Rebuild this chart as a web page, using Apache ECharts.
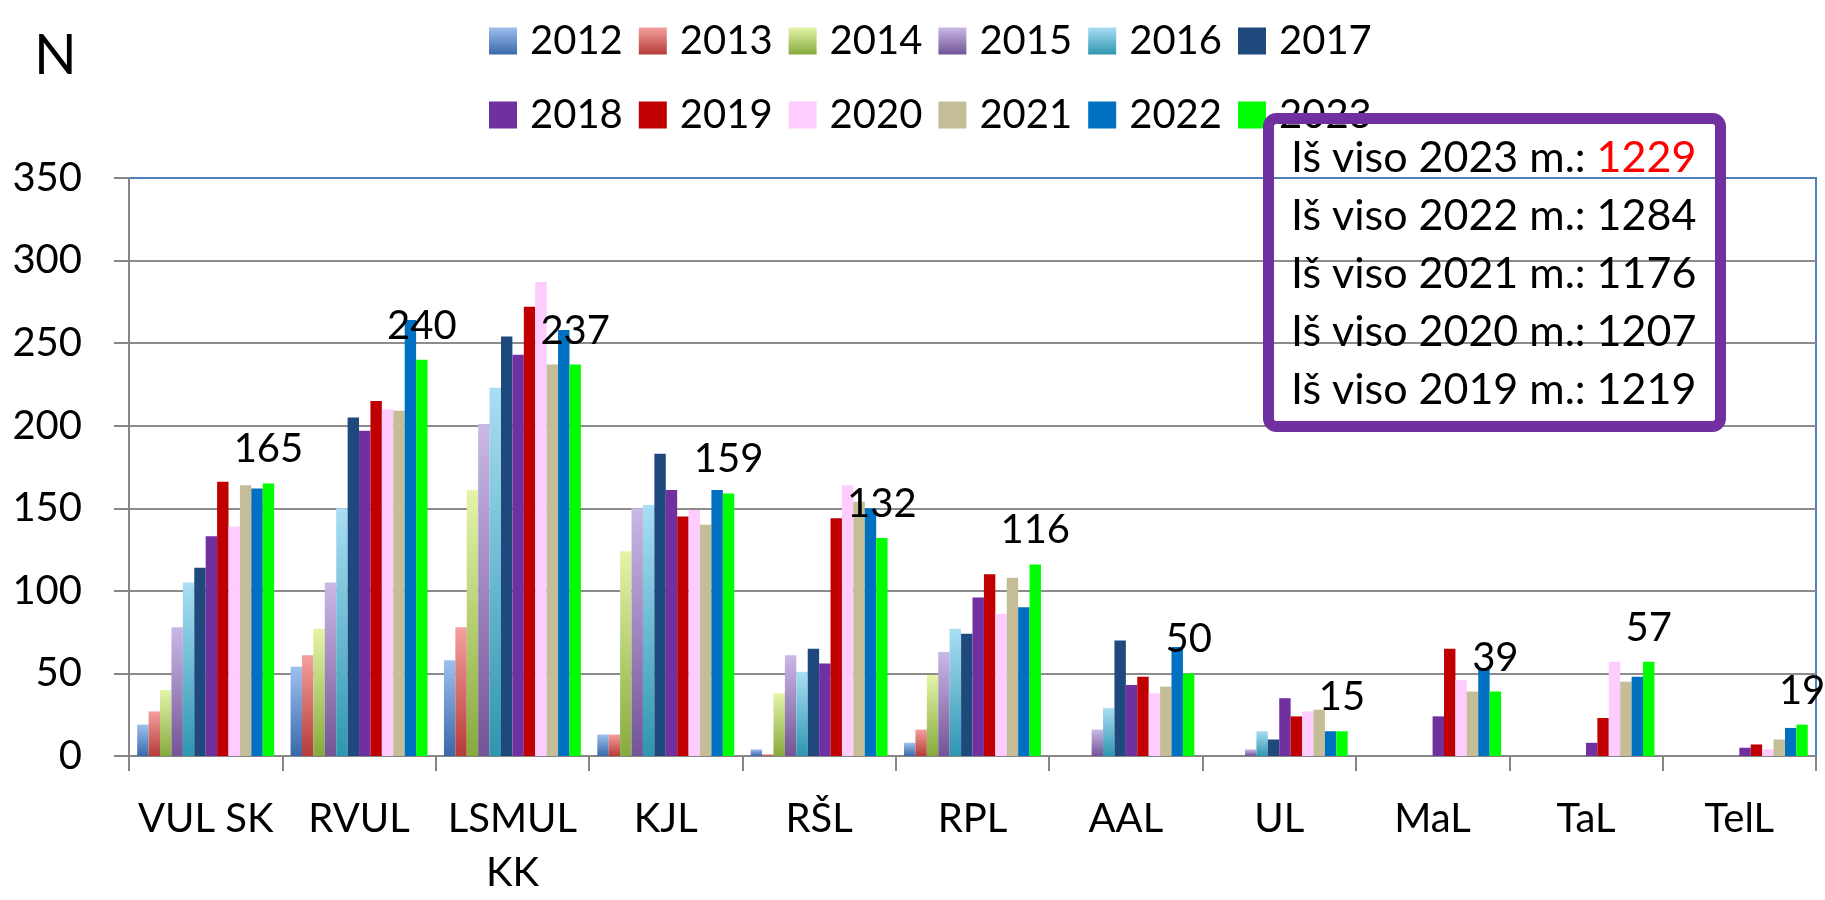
<!DOCTYPE html>
<html>
<head>
<meta charset="utf-8">
<script src="https://cdn.jsdelivr.net/npm/echarts@6/dist/echarts.min.js"></script>
<style>
  html, body { margin: 0; padding: 0; background: #fff; }
  #chart { width: 1825px; height: 900px; }
</style>
</head>
<body>
<div id="chart"></div>
<script>
// kategorijos
var categories = ['VUL SK', 'RVUL', 'LSMUL\nKK', 'KJL', 'RŠL', 'RPL', 'AAL', 'UL', 'MaL', 'TaL', 'TelL']
var years = ['2012', '2013', '2014', '2015', '2016', '2017', '2018', '2019', '2020', '2021', '2022', '2023']

// reikšmės pagal metus
var v2012 = [19, 54, 58, 13, 4, 8, 0, 0, 0, 0, 0]
var v2013 = [27, 61, 78, 13, 1, 16, 0, 0, 0, 0, 0]
var v2014 = [40, 77, 161, 124, 38, 49, 0, 0, 0, 0, 0]
var v2015 = [78, 105, 201, 150, 61, 63, 16, 4, 0, 0, 0]
var v2016 = [105, 150, 223, 152, 51, 77, 29, 15, 0, 0, 0]
var v2017 = [114, 205, 254, 183, 65, 74, 70, 10, 0, 0, 0]
var v2018 = [133, 197, 243, 161, 56, 96, 43, 35, 24, 8, 5]
var v2019 = [166, 215, 272, 145, 144, 110, 48, 24, 65, 23, 7]
var v2020 = [139, 210, 287, 149, 164, 86, 38, 27, 46, 57, 4]
var v2021 = [164, 209, 237, 140, 154, 108, 42, 28, 39, 45, 10]
var v2022 = [162, 264, 258, 161, 150, 90, 66, 15, 53, 48, 17]
var v2023 = [165, 240, 237, 159, 132, 116, 50, 15, 39, 57, 19]

// suvestinė (langelis)
var totalYears = ['2023', '2022', '2021', '2020', '2019']
var totalValues = [1229, 1284, 1176, 1207, 1219]

// y ašies žymės
var yTicks = [0, 50, 100, 150, 200, 250, 300, 350]

var FONT = 'Lato'

function grad(top, bottom) {
  return {
    type: 'linear', x: 0, y: 0, x2: 0, y2: 1,
    colorStops: [{ offset: 0, color: top }, { offset: 1, color: bottom }]
  }
}

var colors = [
  grad('#9DC0EE', '#3A68AA'),
  grad('#F4A09E', '#B53C39'),
  grad('#E4F4A8', '#86AA3E'),
  grad('#C9B8E6', '#735496'),
  grad('#A9DEF4', '#2E96B0'),
  '#1F497D', '#7030A0', '#C00000', '#FFCCFF', '#C4BD97', '#0070C0', '#00FF00'
]

var values = [v2012, v2013, v2014, v2015, v2016, v2017, v2018, v2019, v2020, v2021, v2022, v2023]

var series = years.map(function (y, i) {
  var s = {
    name: y,
    type: 'bar',
    data: values[i],
    barGap: 0,
    barCategoryGap: '10.7%',
    itemStyle: { color: colors[i] },
    emphasis: { disabled: true }
  }
  if (y === '2023') {
    s.label = {
      show: true,
      position: 'top',
      distance: 14,
      fontFamily: FONT,
      fontSize: 40,
      color: '#000'
    }
  }
  return s
})

var boxText = totalYears.map(function (y, i) {
  var style = i === 0 ? 'r' : 'n'
  return '{n|Iš viso ' + y + ' m.: }{' + style + '|' + totalValues[i] + '}'
}).join('\n')

var legendBase = {
  icon: 'rect',
  itemWidth: 28,
  itemHeight: 27,
  itemGap: 16,
  left: 484,
  selectedMode: false,
  textStyle: { fontFamily: FONT, fontSize: 40, color: '#000', padding: [0, 0, 0, 8] }
}

var chart = echarts.init(document.getElementById('chart'))
chart.setOption({
  animation: false,
  color: colors,
  legend: [
    Object.assign({}, legendBase, { top: 16, data: years.slice(0, 6) }),
    Object.assign({}, legendBase, { top: 90, data: years.slice(6) })
  ],
  grid: {
    left: 129,
    right: 9,
    top: 178,
    bottom: 139,
    show: true,
    borderColor: '#4F81BD',
    borderWidth: 2
  },
  xAxis: {
    type: 'category',
    data: categories,
    axisLine: { lineStyle: { color: '#868686', width: 2 } },
    axisTick: { show: true, length: 15, lineStyle: { color: '#868686', width: 2 } },
    axisLabel: {
      interval: 0,
      fontFamily: FONT,
      fontSize: 40,
      color: '#000',
      margin: 36,
      lineHeight: 54
    }
  },
  yAxis: {
    type: 'value',
    min: yTicks[0],
    max: yTicks[yTicks.length - 1],
    interval: 50,
    axisLine: { show: true, lineStyle: { color: '#868686', width: 2 } },
    axisTick: { show: true, length: 15, lineStyle: { color: '#868686', width: 2 } },
    axisLabel: { fontFamily: FONT, fontSize: 40, color: '#000', margin: 47 },
    splitLine: { showMaxLine: false, lineStyle: { color: '#8C8C8C', width: 2 } }
  },
  series: series,
  graphic: [
    {
      type: 'text',
      left: 34,
      top: 28,
      style: { text: 'N', fontFamily: FONT, fontSize: 56, fill: '#000' }
    },
    {
      type: 'rect',
      shape: { x: 1268.5, y: 118.5, width: 452, height: 308, r: 8 },
      style: { fill: 'none', stroke: '#7030A0', lineWidth: 11 },
      z: 100
    },
    {
      type: 'text',
      x: 1291,
      y: 129,
      z: 100,
      style: {
        text: boxText,
        fontFamily: FONT,
        fontSize: 43,
        lineHeight: 58,
        fill: '#000',
        rich: {
          n: { fontFamily: FONT, fontSize: 43, lineHeight: 58, fill: '#000' },
          r: { fontFamily: FONT, fontSize: 43, lineHeight: 58, fill: '#FF0000' }
        }
      }
    }
  ]
})
</script>
</body>
</html>
